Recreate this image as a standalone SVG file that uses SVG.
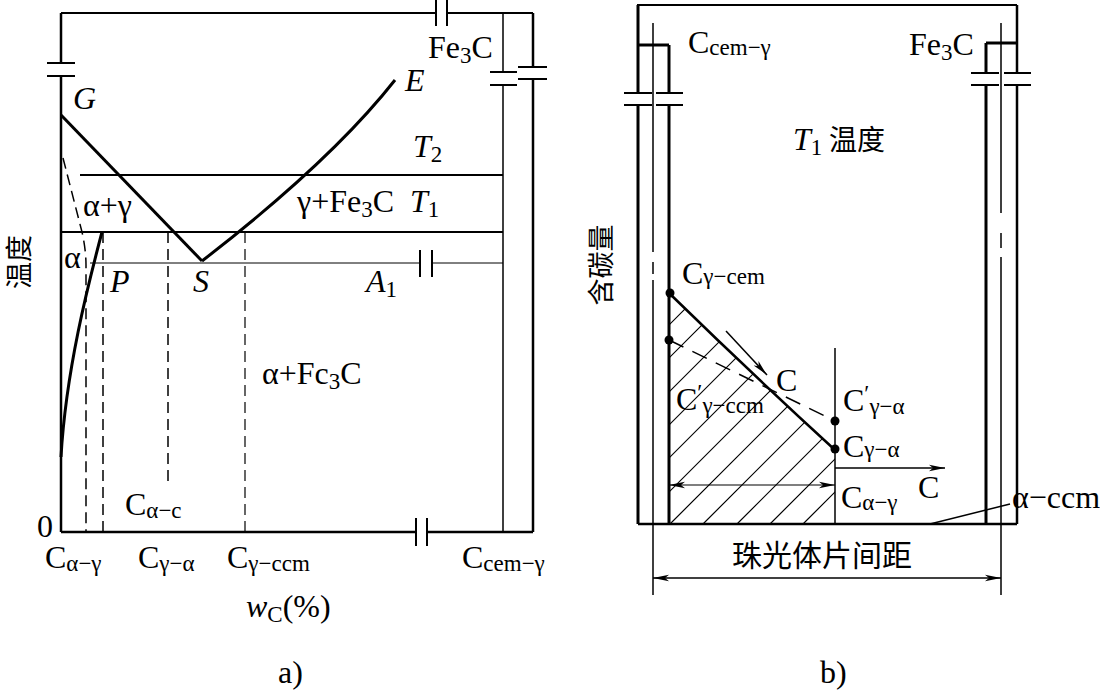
<svg xmlns="http://www.w3.org/2000/svg" width="1100" height="692" viewBox="0 0 1100 692">
<style>
.t{font-family:"Liberation Serif","Times New Roman",serif;fill:#000;font-size:32px}
.it{font-style:italic}
.s{font-size:23px}
.cjk{font-family:"Noto Sans CJK SC","Noto Sans CJK JP",sans-serif;fill:#000}
.k{stroke:#000;fill:none;stroke-linecap:butt}
.w3{stroke-width:3}
.w25{stroke-width:2.5}
.w2{stroke-width:2}
.w15{stroke-width:1.5}
.w1{stroke-width:1.2}
.d{stroke-dasharray:11 6}
.dl{stroke-dasharray:16 10}
</style>
<defs>
<marker id="ah" markerUnits="userSpaceOnUse" markerWidth="16" markerHeight="8" refX="16" refY="4" orient="auto-start-reverse">
<path d="M0,0.8 L16,4 L0,7.2 L4,4 Z" fill="#000"/>
</marker>
<clipPath id="hc"><path d="M669,293 Q752,374 835,450 L835,524 L669,524 Z"/></clipPath>
</defs>

<g id="diagram-a">
<g id="frame-a">
<path class="k w2" d="M61,13 H436 M447,13 H533"/>
<path class="k w2" d="M436,0 V26 M447,0 V26"/>
<path class="k w25" d="M61,13 V63 M61,76 V532"/>
<path class="k w2" d="M47,63 H75 M47,76 H75"/>
<path class="k w25" d="M61,532 H416 M427,532 H533"/>
<path class="k w2" d="M416,518 V546 M427,518 V546"/>
<path class="k w15" d="M503,13 V72 M503,85 V532"/>
<path class="k w2" d="M490,72 H517 M490,85 H517"/>
<path class="k w25" d="M533,13 V67 M533,79 V532"/>
<path class="k w2" d="M518,67 H547 M518,79 H547"/>
</g>
<g id="isotherms">
<path class="k w2" d="M80,175 H503"/>
<path class="k w2" d="M61,232 H503"/>
<path class="k" stroke-width="1" d="M90,263 H420 M432,263 H503"/>
<path class="k w2" d="M420,250 V277 M432,250 V277"/>
</g>
<g id="phase-lines">
<path class="k w3" d="M61,115 L202,261"/>
<path class="k w3" d="M202,261 C255,220 340,150 395,80"/>
<path class="k w3" d="M102,232 C88,285 66,370 61,457"/>
<path class="k w15 d" d="M63,158 L82,232 Q86,250 86,265 L86,532"/>
<path class="k w15 d" d="M103,232 V532"/>
<path class="k w15 d" d="M168,232 V485"/>
<path class="k w1 d" d="M245,232 V532"/>
</g>
<g id="labels-a">
<text class="t it" x="73" y="109">G</text>
<text class="t it" x="405" y="91">E</text>
<text class="t" x="428" y="58">Fe<tspan class="s" dy="5">3</tspan><tspan dy="-5">C</tspan></text>
<text class="t" x="413" y="157"><tspan class="it">T</tspan><tspan class="s" dy="5">2</tspan></text>
<text class="t" x="297" y="212">γ+Fe<tspan class="s" dy="5">3</tspan><tspan dy="-5">C</tspan></text>
<text class="t" x="410" y="212"><tspan class="it">T</tspan><tspan class="s" dy="5">1</tspan></text>
<text class="t" x="83" y="216">α+γ</text>
<text class="t" x="64" y="268">α</text>
<text class="t it" x="110" y="292">P</text>
<text class="t it" x="193" y="292">S</text>
<text class="t" x="366" y="292"><tspan class="it">A</tspan><tspan class="s" dy="5">1</tspan></text>
<text class="t" x="262" y="384">α+Fc<tspan class="s" dy="5">3</tspan><tspan dy="-5">C</tspan></text>
<text class="t" x="125" y="515">C<tspan class="s" dy="3">α−c</tspan></text>
<text class="t" x="37" y="537">0</text>
<text class="t" x="45" y="568">C<tspan class="s" dy="3">α−γ</tspan></text>
<text class="t" x="138" y="568">C<tspan class="s" dy="3">γ−α</tspan></text>
<text class="t" x="227" y="568">C<tspan class="s" dy="3">γ−ccm</tspan></text>
<text class="t" x="462" y="568">C<tspan class="s" dy="3">cem−γ</tspan></text>
<text class="t" x="246" y="617"><tspan class="it">w</tspan><tspan class="s" dy="5">C</tspan><tspan dy="-5">(%)</tspan></text>
<text class="cjk" font-size="27" text-anchor="middle" transform="translate(29,262) rotate(-90)">温度</text>
<text class="t" font-size="28" x="278" y="683">a)</text>
</g>
</g>

<g id="diagram-b">
<g id="frame-b">
<path class="k w2" d="M637,5 H1017"/>
<path class="k w3" d="M638,5 V93 M638,105 V524"/>
<path class="k w3" d="M638,45 H669"/>
<path class="k w3" d="M669,45 V93 M669,105 V524"/>
<path class="k w2" d="M624,93 H652 M656,93 H683 M624,105 H652 M656,105 H683"/>
<path class="k w15" d="M653,23 V252 M653,262 V274 M653,280 V595"/>
<path class="k w25" d="M1017,5 V73 M1017,85 V524"/>
<path class="k w3" d="M986,43 H1017"/>
<path class="k w3" d="M986,43 V73 M986,85 V524"/>
<path class="k w2" d="M971,73 H999 M1004,73 H1031 M971,85 H999 M1004,85 H1031"/>
<path class="k w15" d="M1001,23 V213 M1001,233 V248 M1001,257 V595"/>
<path class="k w25" d="M638,524 H1017"/>
</g>
<g id="hatch" clip-path="url(#hc)">
<path class="k w1" d="M470,524 L704,290 M503,524 L737,290 M537,524 L771,290 M570,524 L804,290 M603,524 L837,290 M637,524 L871,290 M670,524 L904,290 M703,524 L937,290 M737,524 L971,290 M770,524 L1004,290 M803,524 L1037,290"/>
</g>
<g id="curves-b">
<path class="k w25" d="M669,293 Q752,374 835,450"/>
<path class="k w15 dl" d="M669,340 L835,421"/>
<path class="k w15" d="M835,348 V524"/>
<circle cx="670" cy="293" r="4.5"/>
<circle cx="669" cy="340" r="4.5"/>
<circle cx="835" cy="421" r="4.5"/>
<circle cx="835" cy="449" r="4.5"/>
</g>
<g id="connectors">
<path class="k w15" d="M726,331 L767,375" marker-end="url(#ah)"/>
<path class="k w15" d="M835,468 H945" marker-end="url(#ah)"/>
<path class="k w1" d="M669,485 H835" marker-start="url(#ah)" marker-end="url(#ah)"/>
<path class="k w15" d="M653,578 H1001" marker-start="url(#ah)" marker-end="url(#ah)"/>
<path class="k w15" d="M930,524 L1010,504"/>
</g>
<g id="labels-b">
<text class="t" x="688" y="53">C<tspan class="s" dy="2">cem−γ</tspan></text>
<text class="t" x="909" y="55">Fe<tspan class="s" dy="5">3</tspan><tspan dy="-5">C</tspan></text>
<text class="t" x="793" y="150"><tspan class="it">T</tspan><tspan class="s" dy="5">1</tspan></text>
<text class="cjk" x="829" y="150" font-size="28">温度</text>
<text class="t" x="682" y="284">C<tspan class="s">γ−cem</tspan></text>
<text class="t" x="776" y="391">C</text>
<text class="t" x="676" y="410">C<tspan class="s" dy="-10">′</tspan><tspan class="s" dy="13">γ−ccm</tspan></text>
<text class="t" x="843" y="411">C<tspan class="s" dy="-10">′</tspan><tspan class="s" dy="13">γ−α</tspan></text>
<text class="t" x="843" y="457">C<tspan class="s">γ−α</tspan></text>
<text class="t" x="918" y="498">C</text>
<text class="t" x="841" y="508">C<tspan class="s" dy="2">α−γ</tspan></text>
<text class="t" x="1012" y="508">α−ccm</text>
<text class="cjk" x="732" y="566" font-size="30">珠光体片间距</text>
<text class="cjk" font-size="27" text-anchor="middle" transform="translate(611,265) rotate(-90)">含碳量</text>
<text class="t" font-size="28" x="820" y="683">b)</text>
</g>
</g>
</svg>
